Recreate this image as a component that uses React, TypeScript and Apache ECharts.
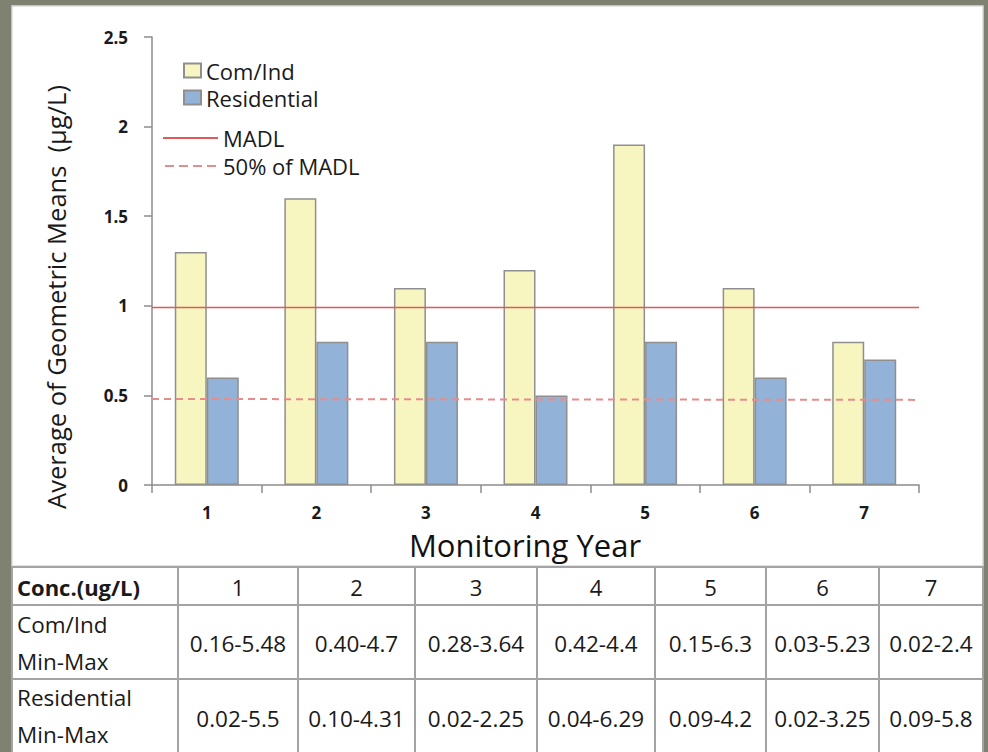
import React, { useEffect, useRef } from 'react';
import * as echarts from 'echarts';

const years = ['1', '2', '3', '4', '5', '6', '7'];
const comIndMeans = [1.3, 1.6, 1.1, 1.2, 1.9, 1.1, 0.8];
const residentialMeans = [0.6, 0.8, 0.8, 0.5, 0.8, 0.6, 0.7];
const madlLine = [[0, 0.99], [7, 0.99]];
const halfMadlLine = [[0, 0.48], [7, 0.475]];
const yMin = 0;
const yMax = 2.5;
const yInterval = 0.5;

const tableHeader = 'Conc.(ug/L)';
const comIndLabel = ['Com/Ind', 'Min-Max'];
const residentialLabel = ['Residential', 'Min-Max'];
const comIndRange = ['0.16-5.48', '0.40-4.7', '0.28-3.64', '0.42-4.4', '0.15-6.3', '0.03-5.23', '0.02-2.4'];
const residentialRange = ['0.02-5.5', '0.10-4.31', '0.02-2.25', '0.04-6.29', '0.09-4.2', '0.02-3.25', '0.09-5.8'];

const FONT = '"Open Sans", Lato, sans-serif';
const TXT = '#1a1a1a';

function buildTable(): any[] {
  const colX = [12, 178, 298, 415, 537, 655, 766, 879, 983];
  const rowY = [567, 605, 679, 753];
  const els: any[] = [];
  for (let r = 0; r < 3; r++) {
    for (let c = 0; c < 8; c++) {
      els.push({
        type: 'rect',
        z: 1,
        shape: { x: colX[c], y: rowY[r], width: colX[c + 1] - colX[c], height: rowY[r + 1] - rowY[r] },
        style: { fill: '#ffffff', stroke: '#a3a3a3', lineWidth: 2 },
      });
    }
  }
  const txt = (text: string, x: number, y: number, align: string, size: number, weight = 'normal') => ({
    type: 'text',
    z: 5,
    style: { text, x, y, align, verticalAlign: 'middle', fontSize: size, fontWeight: weight, fontFamily: FONT, fill: TXT },
  });
  els.push(txt(tableHeader, 17, 587, 'left', 22, 'bold'));
  for (let c = 0; c < 7; c++) {
    const cx = (colX[c + 1] + colX[c + 2]) / 2;
    els.push(txt(years[c], cx, 587, 'center', 22));
    els.push(txt(comIndRange[c], cx, 643, 'center', 22.5));
    els.push(txt(residentialRange[c], cx, 718, 'center', 22.5));
  }
  els.push(txt(comIndLabel[0], 17, 624, 'left', 22.5));
  els.push(txt(comIndLabel[1], 17, 661, 'left', 22.5));
  els.push(txt(residentialLabel[0], 17, 697, 'left', 22.5));
  els.push(txt(residentialLabel[1], 17, 734, 'left', 22.5));
  return els;
}

export default function App() {
  const ref = useRef<HTMLDivElement>(null);
  useEffect(() => {
    if (!ref.current) return;
    const chart = echarts.init(ref.current, undefined, { renderer: 'svg' });
    const option: any = {
      animation: false,
      backgroundColor: '#7f8270',
      textStyle: { fontFamily: FONT },
      grid: {
        left: 152,
        top: 37,
        right: 69,
        bottom: 267,
        show: true,
        borderColor: '#d6d6d6',
        borderWidth: 1.5,
        backgroundColor: 'transparent',
      },
      legend: [
        {
          orient: 'vertical',
          left: 183,
          top: 57,
          padding: 0,
          itemWidth: 17,
          itemHeight: 14,
          itemGap: 0,
          icon: 'rect',
          data: ['Com/Ind', 'Residential'],
          textStyle: { fontSize: 22, fontFamily: FONT, color: TXT, lineHeight: 27 },
        },
        {
          orient: 'vertical',
          left: 163,
          top: 124,
          padding: 0,
          itemWidth: 55,
          itemHeight: 2,
          itemGap: 0,
          data: [
            { name: 'MADL', icon: 'path://M0,0H55V2H0Z' },
            { name: '50% of MADL', icon: 'path://M0,0h9v2h-9z M14,0h9v2h-9z M28,0h9v2h-9z M42,0h9v2h-9z' },
          ],
          textStyle: { fontSize: 22, fontFamily: FONT, color: TXT, lineHeight: 28 },
        },
      ],
      xAxis: [
        {
          type: 'category',
          data: years,
          axisLine: { lineStyle: { color: '#8c8c8c', width: 1.5 } },
          axisTick: { show: true, length: 8, interval: 0, lineStyle: { color: '#8c8c8c', width: 1.5 } },
          axisLabel: { fontSize: 17, color: TXT, margin: 18, fontFamily: FONT, fontWeight: 'bold', lineHeight: 18 },
        },
        { type: 'value', min: 0, max: 7, show: false },
      ],
      yAxis: {
        type: 'value',
        min: yMin,
        max: yMax,
        interval: yInterval,
        splitLine: { show: false },
        axisLine: { show: true, lineStyle: { color: '#8c8c8c', width: 1.5 } },
        axisTick: { show: true, length: 8, lineStyle: { color: '#8c8c8c', width: 1.5 } },
        axisLabel: { fontSize: 17, color: TXT, margin: 24, fontFamily: FONT, fontWeight: 'bold' },
      },
      graphic: [
        {
          type: 'rect',
          z: 0,
          shape: { x: 12, y: 6, width: 971, height: 560 },
          style: { fill: '#ffffff', stroke: '#dcdcdc', lineWidth: 1.5 },
        },
        {
          type: 'text',
          z: 5,
          x: 56,
          y: 297,
          rotation: Math.PI / 2,
          style: {
            text: 'Average of Geometric Means  (µg/L)',
            align: 'center',
            verticalAlign: 'middle',
            fontSize: 25.5,
            fontFamily: FONT,
            fill: TXT,
          },
        },
        {
          type: 'text',
          z: 5,
          style: {
            text: 'Monitoring Year',
            x: 525,
            y: 545,
            align: 'center',
            verticalAlign: 'middle',
            fontSize: 31,
            lineHeight: 32,
            fontFamily: FONT,
            fill: '#111',
          },
        },
        ...buildTable(),
      ],
      series: [
        {
          name: 'Com/Ind',
          type: 'bar',
          data: comIndMeans,
          barWidth: 32,
          barGap: '0%',
          itemStyle: { color: '#f8f6c0', borderColor: '#8f8f8f', borderWidth: 1.5 },
        },
        {
          name: 'Residential',
          type: 'bar',
          data: residentialMeans,
          barWidth: 32,
          barGap: '0%',
          itemStyle: { color: '#93b2d8', borderColor: '#8f8f8f', borderWidth: 1.5 },
        },
        {
          name: 'MADL',
          type: 'line',
          xAxisIndex: 1,
          data: madlLine,
          symbol: 'none',
          lineStyle: { color: '#e05a5a', width: 1.5 },
          itemStyle: { color: '#e05a5a' },
          z: 5,
        },
        {
          name: '50% of MADL',
          type: 'line',
          xAxisIndex: 1,
          data: halfMadlLine,
          symbol: 'none',
          lineStyle: { color: '#e58d8d', width: 2, type: [7, 5] },
          itemStyle: { color: '#e58d8d' },
          z: 5,
        },
      ],
    };
    chart.setOption(option);
    return () => chart.dispose();
  }, []);
  return (
    <div style={{ position: 'absolute', left: 0, top: 0, width: 988, height: 752 }}>
      <div ref={ref} style={{ width: 988, height: 752 }} />
    </div>
  );
}
